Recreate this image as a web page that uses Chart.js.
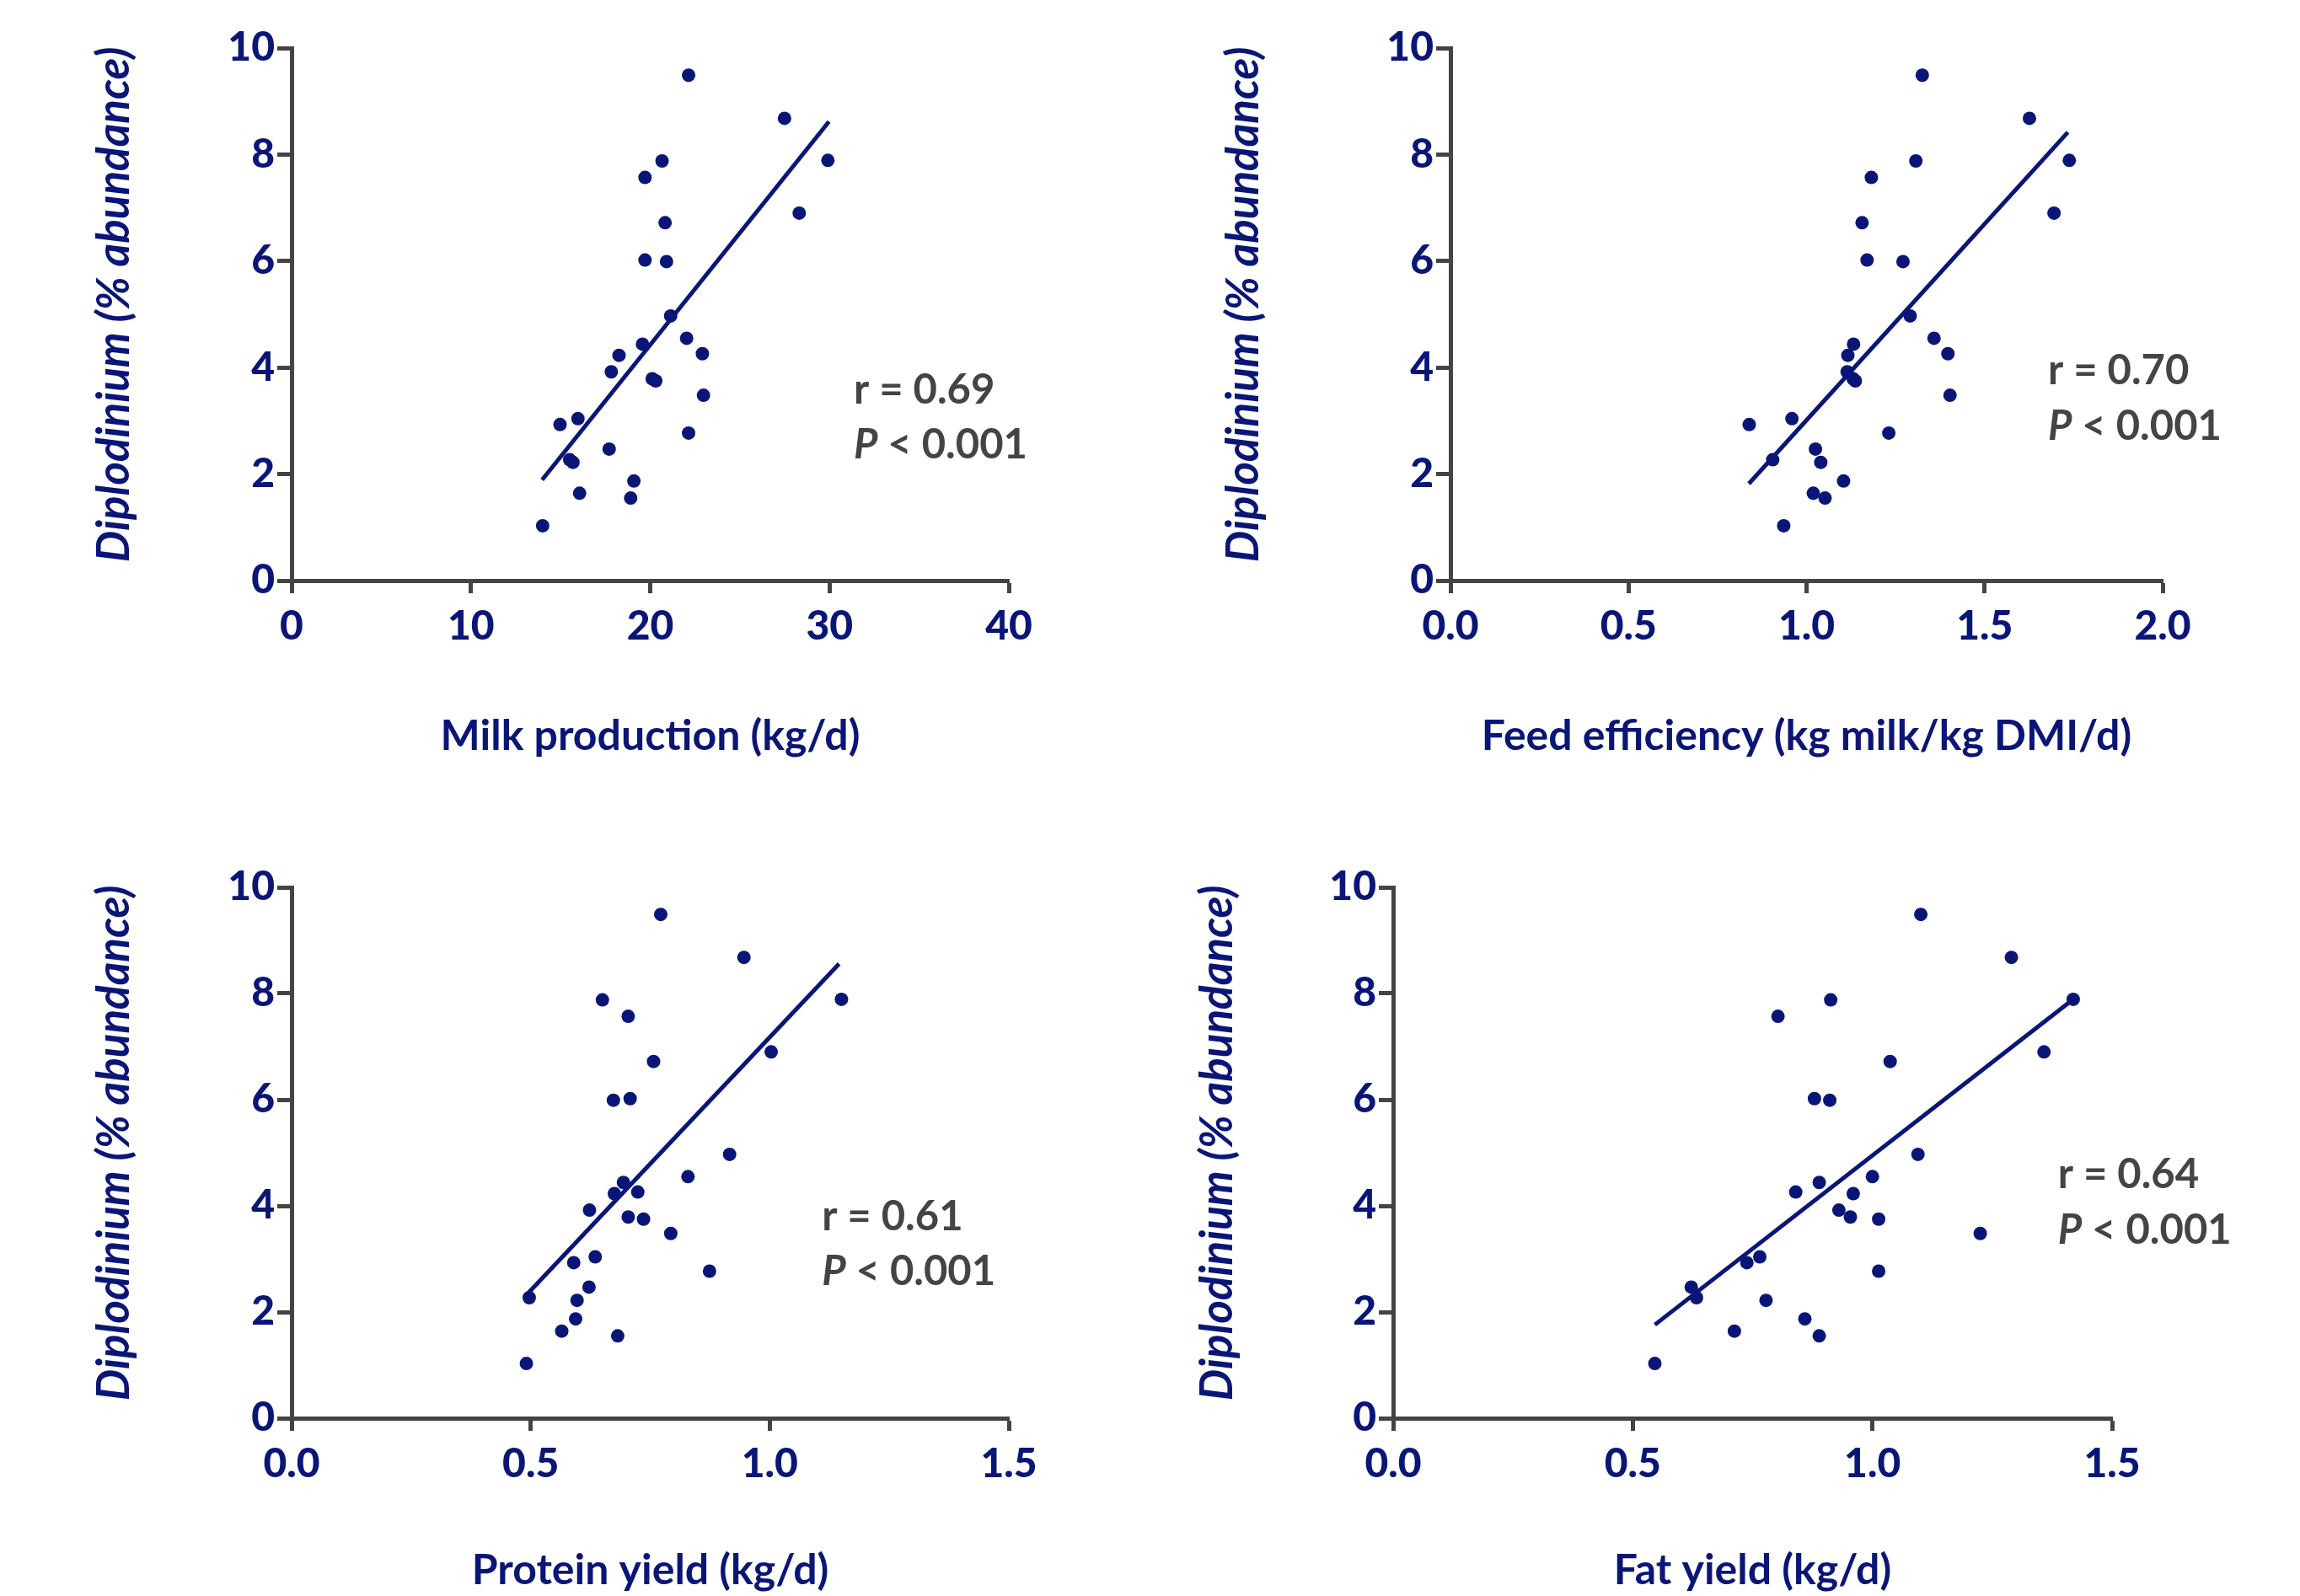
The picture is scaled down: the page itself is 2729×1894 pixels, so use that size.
<!DOCTYPE html>
<html>
<head>
<meta charset="utf-8">
<title>Diplodinium vs production traits</title>
<script src="https://cdn.jsdelivr.net/npm/chart.js@4.4.0/dist/chart.umd.min.js"></script>
<style>
  html, body { margin: 0; padding: 0; background: #fff; }
  #wrap { position: relative; width: 2729px; height: 1894px; background: #fff; }
  canvas { position: absolute; }
</style>
</head>
<body>
<div id="wrap">
  <canvas id="c1" width="1364" height="947" style="left:0px;top:0px"></canvas>
  <canvas id="c2" width="1365" height="947" style="left:1364px;top:0px"></canvas>
  <canvas id="c3" width="1364" height="947" style="left:0px;top:947px"></canvas>
  <canvas id="c4" width="1365" height="947" style="left:1364px;top:947px"></canvas>
</div>
<script>
// Diplodinium abundance (%), one value per cow, same order in every panel
var abundance = [9.49, 8.68, 7.88, 7.89, 7.57, 6.90, 6.72, 6.02, 5.99, 4.97,
                 4.55, 4.44, 4.26, 4.23, 3.92, 3.79, 3.75, 3.48, 3.04, 2.93,
                 2.77, 2.47, 2.27, 2.22, 1.87, 1.64, 1.55, 1.03];

var milkProduction = [22.14, 27.49, 20.66, 29.91, 19.71, 28.31, 20.83, 19.71, 20.91, 21.14,
                      22.03, 19.57, 22.91, 18.26, 17.83, 20.11, 20.31, 22.97, 15.97, 14.97,
                      22.14, 17.71, 15.51, 15.69, 19.09, 16.06, 18.91, 14.00];

var feedEfficiency = [1.325, 1.626, 1.307, 1.738, 1.182, 1.695, 1.156, 1.170, 1.271, 1.291,
                      1.358, 1.132, 1.397, 1.116, 1.114, 1.131, 1.137, 1.403, 0.959, 0.839,
                      1.231, 1.025, 0.905, 1.040, 1.104, 1.019, 1.052, 0.936];

var proteinYield = [0.772, 0.946, 0.650, 1.150, 0.704, 1.003, 0.757, 0.708, 0.673, 0.916,
                    0.829, 0.694, 0.724, 0.675, 0.623, 0.704, 0.736, 0.793, 0.635, 0.590,
                    0.874, 0.622, 0.497, 0.597, 0.594, 0.565, 0.682, 0.491];

var fatYield = [1.101, 1.290, 0.913, 1.419, 0.803, 1.358, 1.037, 0.879, 0.911, 1.095,
                1.000, 0.889, 0.840, 0.960, 0.930, 0.954, 1.013, 1.225, 0.765, 0.738,
                1.013, 0.622, 0.633, 0.778, 0.859, 0.712, 0.889, 0.546];

// regression line end points (x0, y0, x1, y1) as drawn in the figure
var milkLine = [13.97, 1.89, 29.97, 8.62];
var feedLine = [0.838, 1.82, 1.734, 8.42];
var proteinLine = [0.494, 2.35, 1.145, 8.56];
var fatLine = [0.546, 1.76, 1.409, 7.82];

var rValues = ['0.69', '0.70', '0.61', '0.64'];
var pValue = '0.001';

var xTitles = ['Milk production (kg/d)', 'Feed efficiency (kg milk/kg DMI/d)',
               'Protein yield (kg/d)', 'Fat yield (kg/d)'];
// two leading nbsp nudge the centred title up a little, like the original
var yTitle = '\u00a0\u00a0Diplodinium (% abundance)';

var navy = '#0a1677';
var axisGrey = '#444444';
var textGrey = '#444444';
var fontFam = 'Lato, "Open Sans", sans-serif';

function pairs(xs, ys){
  var out = [];
  for(var i = 0; i < xs.length; i++){
    out.push({x: xs[i], y: ys[i]});
  }
  return out;
}

// draws "r = .." and "P < 0.001" anchored in data units
var statsText = {
  id: 'statsText',
  afterDatasetsDraw: function(chart, args, opts){
    var ctx = chart.ctx;
    var sx = chart.scales.x, sy = chart.scales.y;
    var x = sx.getPixelForValue(opts.at[0]);
    var y1 = sy.getPixelForValue(opts.at[1]);
    var y2 = sy.getPixelForValue(opts.at[2]);
    ctx.save();
    ctx.fillStyle = textGrey;
    ctx.textBaseline = 'alphabetic';
    ctx.textAlign = 'left';
    ctx.font = 'bold ' + opts.size + 'px ' + fontFam;
    ctx.fillText('r = ' + opts.r, x, y1);
    ctx.font = 'italic bold ' + opts.size + 'px ' + fontFam;
    ctx.fillText('P', x, y2);
    var w = ctx.measureText('P').width;
    ctx.font = 'bold ' + opts.size + 'px ' + fontFam;
    ctx.fillText(' < ' + pValue, x + w, y2);
    ctx.restore();
  }
};

function makeChart(id, xs, line, xMax, xStep, decimals, xTitle, r, box){
  var ctx = document.getElementById(id).getContext('2d');
  return new Chart(ctx, {
    type: 'scatter',
    data: {
      datasets: [{
        data: pairs(xs, abundance),
        pointRadius: 8,
        pointHoverRadius: 8,
        pointBackgroundColor: navy,
        pointBorderWidth: 0,
        showLine: false
      }, {
        data: [{x: line[0], y: line[1]}, {x: line[2], y: line[3]}],
        showLine: true,
        pointRadius: 0,
        borderColor: navy,
        borderWidth: 5,
        fill: false
      }]
    },
    options: {
      responsive: false,
      animation: false,
      layout: {padding: {left: box.padLeft, right: box.padRight, top: box.padTop, bottom: box.padBottom}},
      plugins: {
        legend: {display: false},
        tooltip: {enabled: false},
        statsText: {r: r, at: box.stats, size: 49}
      },
      scales: {
        x: {
          type: 'linear',
          min: 0,
          max: xMax,
          border: {display: true, color: axisGrey, width: 5},
          grid: {drawOnChartArea: false, drawTicks: true, tickLength: 15, tickWidth: 5, tickColor: axisGrey},
          ticks: {
            stepSize: xStep,
            padding: 11,
            color: navy,
            font: {family: fontFam, size: 48, weight: '900'},
            callback: function(v){ return v.toFixed(decimals); }
          },
          title: {display: true, text: xTitle, color: navy, padding: 0,
                  font: {family: fontFam, size: 50, weight: 'bold'}},
          afterFit: function(s){ s.height = box.xHeight; }
        },
        y: {
          type: 'linear',
          min: 0,
          max: 10,
          border: {display: true, color: axisGrey, width: 5},
          grid: {drawOnChartArea: false, drawTicks: true, tickLength: 17, tickWidth: 5, tickColor: axisGrey},
          ticks: {
            stepSize: 2,
            padding: 3,
            color: navy,
            font: {family: fontFam, size: 48, weight: '900'},
            callback: function(v){ return v; }
          },
          title: {display: true, text: yTitle, color: navy, padding: 0,
                  font: {family: fontFam, size: 53, weight: 'bold', style: 'italic'}},
          afterFit: function(s){ s.width = box.yWidth; }
        }
      }
    },
    plugins: [statsText]
  });
}

makeChart('c1', milkProduction, milkLine, 40, 10, 0, xTitles[0], rValues[0],
  {padLeft: 104, padRight: 167, padTop: 57, padBottom: 43, yWidth: 242, xHeight: 215, stats: [31.35, 3.32, 2.29]});
makeChart('c2', feedEfficiency, feedLine, 2, 0.5, 1, xTitles[1], rValues[1],
  {padLeft: 80, padRight: 163, padTop: 57, padBottom: 43, yWidth: 277, xHeight: 215, stats: [1.678, 3.69, 2.64]});
makeChart('c3', proteinYield, proteinLine, 1.5, 0.5, 1, xTitles[2], rValues[2],
  {padLeft: 104, padRight: 167, padTop: 106, padBottom: 0, yWidth: 242, xHeight: 211, stats: [1.109, 3.54, 2.51]});
makeChart('c4', fatYield, fatLine, 1.5, 0.5, 1, xTitles[3], rValues[3],
  {padLeft: 49, padRight: 223, padTop: 106, padBottom: 0, yWidth: 240, xHeight: 211, stats: [1.387, 4.33, 3.29]});
</script>
</body>
</html>
